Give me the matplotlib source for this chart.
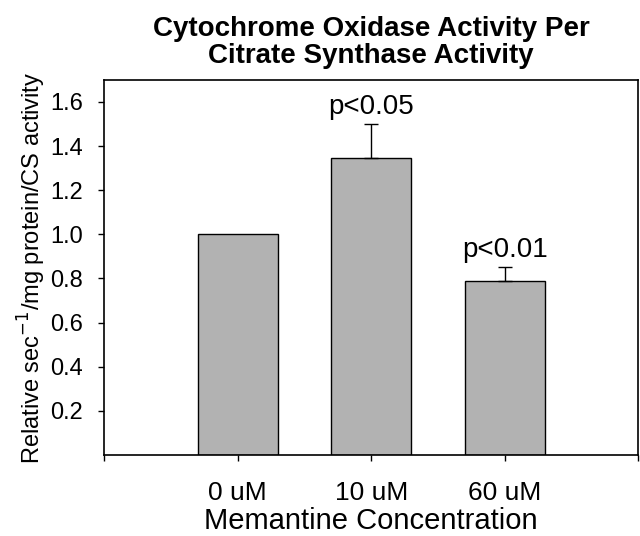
import matplotlib
matplotlib.use('Agg')
import matplotlib.pyplot as plt

plt.rcParams['font.family'] = ['Liberation Sans', 'DejaVu Sans']

# Data
labels = ['0 uM', '10 uM', '60 uM']
values = [1.0, 1.345, 0.787]
errors = [0.0, 0.155, 0.066]
pvals = ['', 'p<0.05', 'p<0.01']

positions = [1, 2, 3]

fig = plt.figure(figsize=(6.4, 5.36), dpi=100)
ax = fig.add_axes([0.1625, 0.151, 0.835, 0.70])

ax.bar(positions, values, width=0.6, color='#b2b2b2', edgecolor='black',
       linewidth=1.0, zorder=2)
for x, v, e in zip(positions, values, errors):
    if e > 0:
        ax.errorbar(x, v, yerr=[[0], [e]], fmt='none', ecolor='black',
                    elinewidth=1.0, capsize=5, capthick=1.0, zorder=3)

for x, v, e, p in zip(positions, values, errors, pvals):
    if p:
        ax.annotate(p, xy=(x, v + e), xytext=(0, 7), textcoords='offset points',
                    ha='center', va='baseline', fontsize=20)

ax.set_xlim(0, 4)
ax.set_ylim(0, 1.7)
ax.set_xticks([0, 1, 2, 3, 4])
ax.set_xticklabels([''] + labels + [''])
ax.set_yticks([0.2, 0.4, 0.6, 0.8, 1.0, 1.2, 1.4, 1.6])
ax.set_yticklabels(['%.1f' % t for t in ax.get_yticks()])
ax.tick_params(axis='y', direction='out', length=4, width=1, labelsize=17, pad=11)
ax.tick_params(axis='x', direction='out', length=4, width=1, labelsize=19, pad=15)
for s in ax.spines.values():
    s.set_linewidth(1.2)

ax.set_xlabel('Memantine Concentration', fontsize=21, labelpad=1)
ax.set_ylabel('Relative sec$^{-1}$/mg protein/CS activity', fontsize=17, labelpad=2)
ax.set_title('Cytochrome Oxidase Activity Per\nCitrate Synthase Activity',
             fontsize=20, fontweight='heavy', pad=12, linespacing=1.05)

fig.savefig('out.png', dpi=100)
